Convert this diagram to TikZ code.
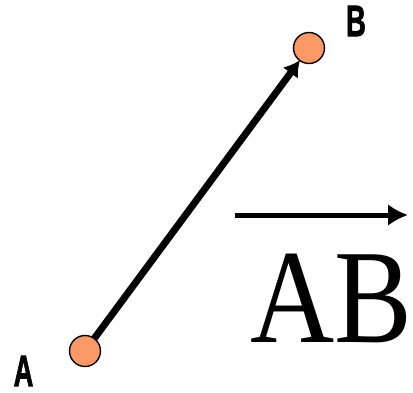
\documentclass[tikz,border=0pt]{standalone}
\usepackage{fontspec}
\setmainfont{Liberation Serif}
\newfontfamily\lblfont{Liberation Sans Bold}[FakeBold=2]
\usepackage{tikz}
\usetikzlibrary{arrows.meta}
\definecolor{ptorange}{RGB}{250,152,102}

\begin{document}
\begin{tikzpicture}[x=1pt,y=1pt,
  pt/.style={circle,draw,line width=1.4pt,fill=ptorange,minimum size=31pt,inner sep=0pt},
  lbl/.style={font=\lblfont\fontsize{44}{44}\selectfont,xscale=0.62,inner sep=0pt},
  vec/.style={-{Latex[length=16pt,width=19pt]},line width=7pt},
  bar/.style={-{Latex[length=20pt,width=22pt]},line width=5pt}]
\useasboundingbox (0,0) rectangle (413,392);
\coordinate (pa) at (85,41);
\coordinate (pb) at (309,344);
\draw[vec,shorten <=15pt,shorten >=15pt] (pa) -- (pb);
\node[pt] (A) at (pa) {};
\node[pt] (B) at (pb) {};
\node[lbl] (la) at (23.5,21) {A};
\node[lbl] (lb) at (356,371) {B};
% vector name
\node[font=\fontsize{134}{134}\selectfont,xscale=0.87,inner sep=0pt,anchor=base] (ab) at (331,50) {AB};
\coordinate (v0) at (235,177);
\coordinate (v1) at (408,177);
\draw[bar] (v0) -- (v1);
\end{tikzpicture}
\end{document}
